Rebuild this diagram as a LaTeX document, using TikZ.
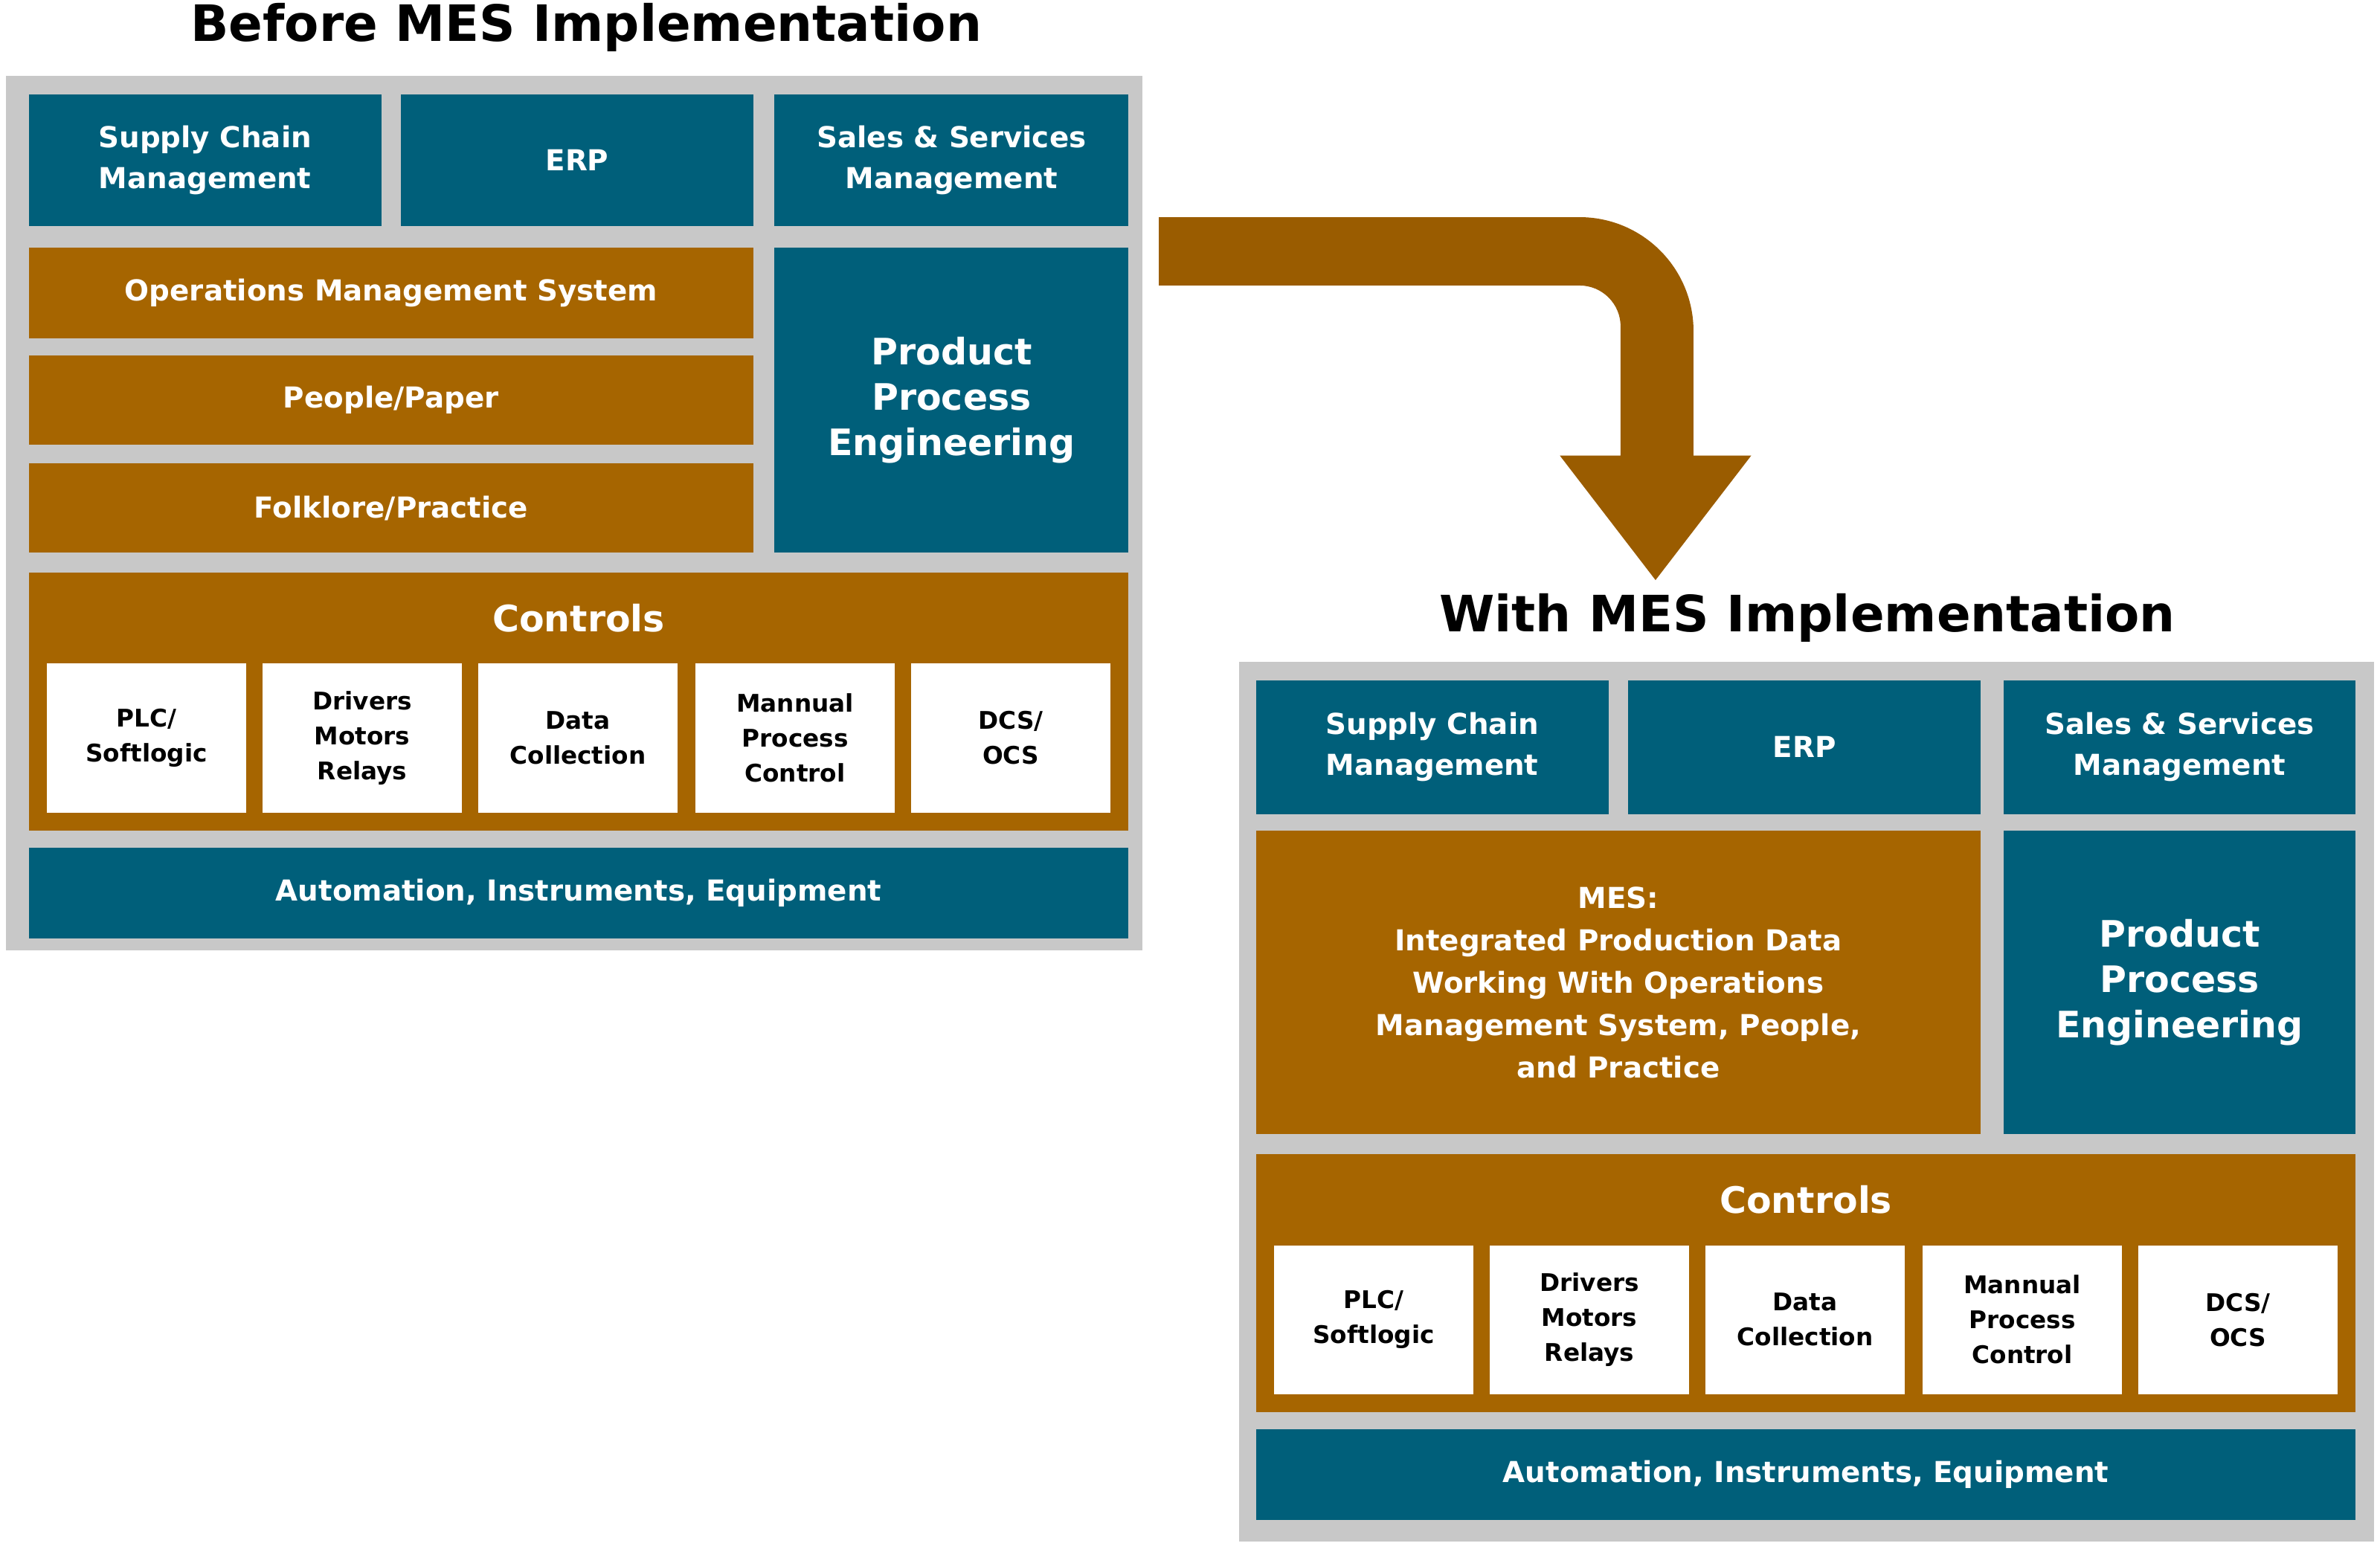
\documentclass[tikz,border=0pt]{standalone}
\usepackage{fontspec}
\setmainfont{DejaVu Sans}
\definecolor{teal}{HTML}{005F7A}
\definecolor{brn}{HTML}{A66500}
\definecolor{gry}{HTML}{C8C8C8}
\definecolor{arr}{HTML}{9A5C00}
\begin{document}
\begin{tikzpicture}[x=1pt,y=-1pt,
 bx/.style={inner sep=0pt,align=center,font=\bfseries\fontsize{19}{27}\selectfont,text=white},
 tb/.style={bx,fill=teal},
 ob/.style={bx,fill=brn},
 big/.style={font=\bfseries\fontsize{24}{30}\selectfont},
 tl/.style={font=\bfseries\fontsize{33}{40}\selectfont},
 wb/.style={fill=white,inner sep=0pt,minimum width=131pt,minimum height=98pt,font=\bfseries\fontsize{16}{23}\selectfont,align=center}]
\useasboundingbox (0,0) rectangle (1567,1018);
% arrow
\fill[arr] (763,143) -- (1040,143) arc[start angle=-90,end angle=0,radius=75] -- (1115,300) -- (1153,300) -- (1090,382) -- (1027,300) -- (1067,300) -- (1067,215) arc[start angle=0,end angle=-90,radius=27] -- (763,188) -- cycle;
% Before
\node[tl] (t1) at (386,18) {Before MES Implementation};
\fill[gry] (4,50) rectangle (752,626);
\node[tb,minimum width=232pt,minimum height=87pt] (scm1) at (135,105.5) {Supply Chain\\Management};
\node[tb,minimum width=232pt,minimum height=87pt] (erp1) at (380,105.5) {ERP};
\node[tb,minimum width=233pt,minimum height=87pt] (sal1) at (626.5,105.5) {Sales \& Services\\Management};
\node[ob,minimum width=477pt,minimum height=60pt] (oms1) at (257.5,193) {Operations Management System};
\node[ob,minimum width=477pt,minimum height=59pt] (pp1) at (257.5,263.5) {People/Paper};
\node[ob,minimum width=477pt,minimum height=59pt] (fp1) at (257.5,334.5) {Folklore/Practice};
\node[tb,big,minimum width=233pt,minimum height=201pt] (pe1) at (626.5,263.5) {Product\\Process\\Engineering};
\node[fill=brn,minimum width=724pt,minimum height=170pt,inner sep=0pt] (c1) at (381,462) {};
\node[bx,big] (cl1) at (381,407) {Controls};
\node[wb] (w11) at (96.5,486) {PLC/\\Softlogic};
\node[wb] (w12) at (238.5,486) {Drivers\\Motors\\Relays};
\node[wb] (w13) at (380.5,486) {Data\\Collection};
\node[wb] (w14) at (523.5,486) {Mannual\\Process\\Control};
\node[wb] (w15) at (665.5,486) {DCS/\\OCS};
\node[tb,minimum width=724pt,minimum height=60pt] (a1) at (381,588) {Automation, Instruments, Equipment};
% With
\node[tl] (t2) at (1190,407) {With MES Implementation};
\fill[gry] (816,436) rectangle (1563,1015);
\node[tb,minimum width=232pt,minimum height=88pt] (scm2) at (943,492) {Supply Chain\\Management};
\node[tb,minimum width=232pt,minimum height=88pt] (erp2) at (1188,492) {ERP};
\node[tb,minimum width=232pt,minimum height=88pt] (sal2) at (1435,492) {Sales \& Services\\Management};
\node[ob,minimum width=477pt,minimum height=200pt,font=\bfseries\fontsize{19}{28}\selectfont] (mes) at (1065.5,647) {MES:\\Integrated Production Data\\Working With Operations\\Management System, People,\\and Practice};
\node[tb,big,minimum width=232pt,minimum height=200pt] (pe2) at (1435,647) {Product\\Process\\Engineering};
\node[fill=brn,minimum width=724pt,minimum height=170pt,inner sep=0pt] (c2) at (1189,845) {};
\node[bx,big] (cl2) at (1189,790) {Controls};
\node[wb] (w21) at (904.5,869) {PLC/\\Softlogic};
\node[wb] (w22) at (1046.5,869) {Drivers\\Motors\\Relays};
\node[wb] (w23) at (1188.5,869) {Data\\Collection};
\node[wb] (w24) at (1331.5,869) {Mannual\\Process\\Control};
\node[wb] (w25) at (1473.5,869) {DCS/\\OCS};
\node[tb,minimum width=724pt,minimum height=60pt] (a2) at (1189,971) {Automation, Instruments, Equipment};
\end{tikzpicture}
\end{document}
